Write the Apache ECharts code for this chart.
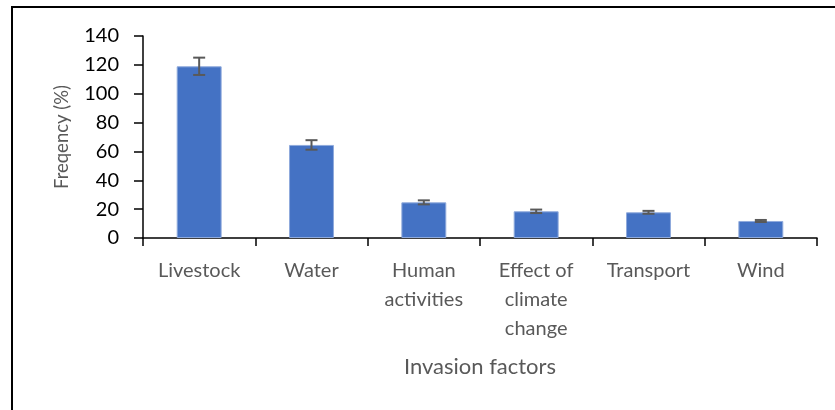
<!DOCTYPE html>
<html><head><meta charset="utf-8">
<script src="https://cdn.jsdelivr.net/npm/echarts@6/dist/echarts.min.js"></script>
<style>html,body{margin:0;padding:0;background:#fff}#c{width:835px;height:410px}</style>
</head><body><div id="c"></div>
<script>
const categories = ['Livestock', 'Water', 'Human\nactivities', 'Effect of\nclimate\nchange', 'Transport', 'Wind'];
const values = [119, 64.5, 24.7, 18.5, 17.8, 11.8];
const errors = [6, 3.3, 1.4, 1.2, 1.0, 0.7];
const yTicks = { min: 0, max: 140, interval: 20 };
const xTitle = 'Invasion factors';
const yTitle = 'Freqency (%)';

const FONT = 'Lato';
const errData = values.map((v, i) => [i, v - errors[i], v + errors[i]]);
const chart = echarts.init(document.getElementById('c'), null, { renderer: 'canvas' });
chart.setOption({
  animation: false,
  backgroundColor: '#fff',
  textStyle: { fontFamily: FONT },
  grid: { left: 143, right: 18, top: 36, bottom: 172, containLabel: false },
  graphic: [{
    type: 'rect', shape: { x: 12, y: 7, width: 900, height: 500 },
    style: { fill: 'none', stroke: '#000', lineWidth: 2 }, silent: true
  }],
  xAxis: {
    type: 'category', data: categories,
    name: xTitle, nameLocation: 'middle', nameGap: 118,
    nameTextStyle: { fontSize: 22, color: '#595959', fontFamily: FONT },
    axisLine: { lineStyle: { color: '#000', width: 1.5 } },
    axisTick: { show: true, length: 8, alignWithLabel: false, lineStyle: { color: '#000', width: 1.5 } },
    axisLabel: { interval: 0, fontSize: 20, color: '#595959', fontFamily: FONT, lineHeight: 29, margin: 18, verticalAlign: 'top' }
  },
  yAxis: {
    type: 'value', min: yTicks.min, max: yTicks.max, interval: yTicks.interval,
    name: yTitle, nameLocation: 'middle', nameGap: 71, nameRotate: 90,
    nameTextStyle: { fontSize: 18.5, color: '#595959', fontFamily: FONT },
    splitLine: { show: false },
    axisLine: { show: true, lineStyle: { color: '#000', width: 1.5 } },
    axisTick: { show: true, length: 9, lineStyle: { color: '#000', width: 1.5 } },
    axisLabel: { fontSize: 20, color: '#000', fontFamily: FONT, margin: 24 }
  },
  series: [{
    type: 'bar', data: values, barWidth: '40%',
    itemStyle: { color: '#4472C4', borderColor: '#8FAADC', borderWidth: 1 }
  }, {
    type: 'custom', data: errData, z: 10,
    renderItem: function (params, api) {
      const x = api.value(0);
      const lo = api.coord([x, api.value(1)]);
      const hi = api.coord([x, api.value(2)]);
      const hw = 6;
      const st = { stroke: '#595959', lineWidth: 2 };
      return { type: 'group', children: [
        { type: 'line', shape: { x1: lo[0], y1: lo[1], x2: hi[0], y2: hi[1] }, style: st },
        { type: 'line', shape: { x1: lo[0] - hw, y1: lo[1], x2: lo[0] + hw, y2: lo[1] }, style: st },
        { type: 'line', shape: { x1: hi[0] - hw, y1: hi[1], x2: hi[0] + hw, y2: hi[1] }, style: st }
      ]};
    }
  }]
});
</script></body></html>
